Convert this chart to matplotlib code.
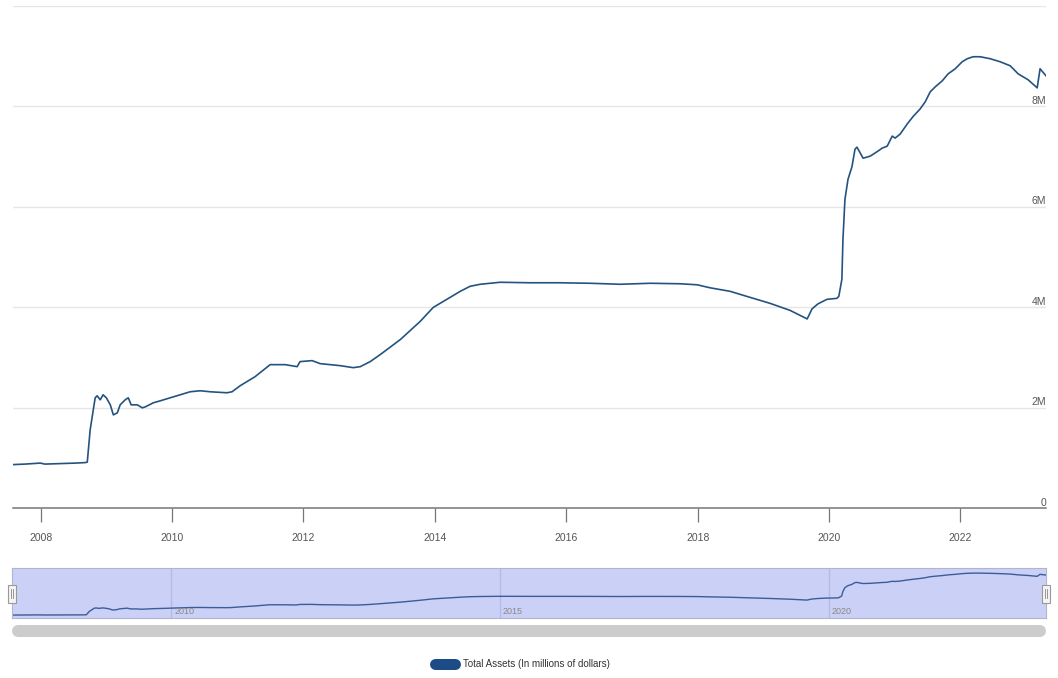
import matplotlib
matplotlib.use("Agg")
import matplotlib.pyplot as plt
import matplotlib.dates as mdates
from matplotlib.patches import Rectangle
from matplotlib.lines import Line2D
import pandas as pd

plt.rcParams['font.family'] = ['Liberation Sans', 'DejaVu Sans']

# Fed total assets (values in trillions = "M" of millions of dollars)
dates = [
    "2007-07-31", "2007-10-06", "2007-12-29", "2008-01-25", "2008-04-18", "2008-07-11",
    "2008-09-05", "2008-09-16", "2008-10-02", "2008-10-19", "2008-10-30", "2008-11-10",
    "2008-11-27", "2008-12-13", "2008-12-31", "2009-01-22", "2009-02-08", "2009-03-02",
    "2009-03-18", "2009-04-15", "2009-05-02", "2009-05-18", "2009-06-21", "2009-07-19",
    "2009-08-05", "2009-09-18", "2009-10-27", "2009-12-21", "2010-02-15", "2010-04-11",
    "2010-06-06", "2010-07-31", "2010-11-02", "2010-11-30", "2011-01-14", "2011-04-07",
    "2011-06-30", "2011-09-21", "2011-11-27", "2011-12-13", "2012-02-18", "2012-04-03",
    "2012-07-23", "2012-10-04", "2012-11-12", "2013-01-06", "2013-03-03", "2013-06-23",
    "2013-10-11", "2013-12-23", "2014-03-27", "2014-05-22", "2014-07-16", "2014-09-10",
    "2014-12-30", "2015-06-14", "2015-11-28", "2016-05-13", "2016-10-27", "2017-04-12",
    "2017-09-26", "2017-12-29", "2018-03-11", "2018-06-30", "2018-10-19", "2019-02-08",
    "2019-05-30", "2019-09-02", "2019-09-29", "2019-11-01", "2019-12-21", "2020-02-14",
    "2020-02-25", "2020-03-13", "2020-03-19", "2020-03-30", "2020-04-16", "2020-05-08",
    "2020-05-25", "2020-06-05", "2020-06-22", "2020-07-09", "2020-08-17", "2020-09-25",
    "2020-10-23", "2020-11-20", "2020-12-18", "2021-01-03", "2021-01-31", "2021-03-11",
    "2021-04-13", "2021-05-22", "2021-06-19", "2021-07-17", "2021-08-14", "2021-09-22",
    "2021-10-25", "2021-12-03", "2022-01-11", "2022-02-08", "2022-03-13", "2022-04-21",
    "2022-06-16", "2022-08-10", "2022-10-05", "2022-11-18", "2023-01-13", "2023-03-04",
    "2023-03-20", "2023-04-22",
]
assets_tn = [
    0.87, 0.88, 0.90, 0.88, 0.89, 0.90,
    0.91, 0.92, 1.56, 1.95, 2.20, 2.24,
    2.16, 2.26, 2.20, 2.06, 1.86, 1.90,
    2.06, 2.16, 2.20, 2.06, 2.06, 2.00,
    2.02, 2.10, 2.14, 2.20, 2.26, 2.32,
    2.34, 2.32, 2.30, 2.32, 2.44, 2.62,
    2.86, 2.86, 2.82, 2.92, 2.94, 2.88,
    2.84, 2.80, 2.82, 2.92, 3.06, 3.36,
    3.72, 4.00, 4.20, 4.32, 4.42, 4.46,
    4.50, 4.49, 4.49, 4.48, 4.46, 4.48,
    4.47, 4.45, 4.39, 4.32, 4.20, 4.08,
    3.94, 3.77, 3.97, 4.07, 4.16, 4.18,
    4.22, 4.56, 5.36, 6.15, 6.55, 6.80,
    7.15, 7.19, 7.08, 6.97, 7.01, 7.10,
    7.17, 7.21, 7.41, 7.37, 7.45, 7.65,
    7.80, 7.95, 8.09, 8.29, 8.39, 8.51,
    8.65, 8.75, 8.89, 8.95, 8.99, 8.99,
    8.95, 8.89, 8.81, 8.65, 8.53, 8.37,
    8.75, 8.61,
]
year_ticks = [2008, 2010, 2012, 2014, 2016, 2018, 2020, 2022]
y_ticks = [0, 2, 4, 6, 8, 10]
y_tick_labels = ["0", "2M", "4M", "6M", "8M", ""]
nav_years = [2010, 2015, 2020]
legend_label = "Total Assets (In millions of dollars)"

W, H = 1058, 678
x = pd.to_datetime(dates)
xmin, xmax = pd.Timestamp("2007-07-31"), pd.Timestamp("2023-04-22")
line_color = "#25537f"


def fx(px):
    return px / W


def fy(py):
    return 1 - py / H


fig = plt.figure(figsize=(W / 100, H / 100), dpi=100)

# main chart
ax = fig.add_axes([fx(13), fy(508.3), fx(1046) - fx(13), (508.3 - 6) / H])
ax.plot(x, assets_tn, color=line_color, lw=1.2, solid_joinstyle="round")
ax.set_xlim(xmin, xmax)
ax.set_ylim(0, 10)
for s in ["top", "left", "right"]:
    ax.spines[s].set_visible(False)
ax.spines["bottom"].set_color("#777777")
ax.spines["bottom"].set_linewidth(1.1)
ax.set_yticks(y_ticks)
ax.tick_params(axis="y", length=0, labelleft=False)
ax.grid(axis="y", color="#e6e6e6", lw=1)
ax.set_axisbelow(True)
ax.set_xticks([pd.Timestamp(f"{y}-01-01") for y in year_ticks])
ax.set_xticklabels([str(y) for y in year_ticks])
ax.tick_params(axis="x", length=10, width=0.9, color="#777777", labelsize=7.5,
               labelcolor="#555555", pad=7.5)
for v, lab in zip(y_ticks, y_tick_labels):
    ax.annotate(lab, (1, v), xycoords=ax.get_yaxis_transform(), xytext=(0, 0.5),
                textcoords="offset points", ha="right", va="bottom",
                fontsize=7.5, color="#555555")

# navigator
nav = fig.add_axes([fx(12), fy(618), fx(1046) - fx(12), 50 / H])
nav.set_facecolor("#cbd0f6")
nav.plot(x, assets_tn, color="#3a5d99", lw=1)
nav.set_xlim(xmin, xmax)
nav.set_ylim(0.3, 9.98)
nav.set_xticks([])
nav.set_yticks([])
for s in nav.spines.values():
    s.set_color("#b0b4d0")
for yr in nav_years:
    d = mdates.date2num(pd.Timestamp(f"{yr}-01-01"))
    nav.axvline(d, color="#b6bae6", lw=1, zorder=0)
    nav.annotate(str(yr), (d, 0), xycoords=nav.get_xaxis_transform(), xytext=(2, 1.5),
                 textcoords="offset points", ha="left", va="bottom",
                 fontsize=6.5, color="#888888")

# navigator handles
for hx in [8, 1042]:
    fig.add_artist(Rectangle((fx(hx), fy(603)), 8 / W, 18 / H, transform=fig.transFigure,
                             facecolor="#f4f4f4", edgecolor="#999999", lw=0.8))
    for off in [3, 5]:
        fig.add_artist(Line2D([fx(hx + off), fx(hx + off)], [fy(598), fy(589)],
                              transform=fig.transFigure, color="#888888", lw=0.6))

# scrollbar (thick line with round caps)
fig.add_artist(Line2D([fx(18), fx(1040)], [fy(631), fy(631)], transform=fig.transFigure,
                      color="#cccccc", lw=12 * 0.72, solid_capstyle="round"))

# legend pill
fig.add_artist(Line2D([fx(435), fx(455)], [fy(664), fy(664)], transform=fig.transFigure,
                      color="#1c4b85", lw=11 * 0.72, solid_capstyle="round"))
fig.text(fx(463), fy(664), legend_label, ha="left", va="center", fontsize=7,
         color="#333333")

fig.savefig("out.png", dpi=100)
